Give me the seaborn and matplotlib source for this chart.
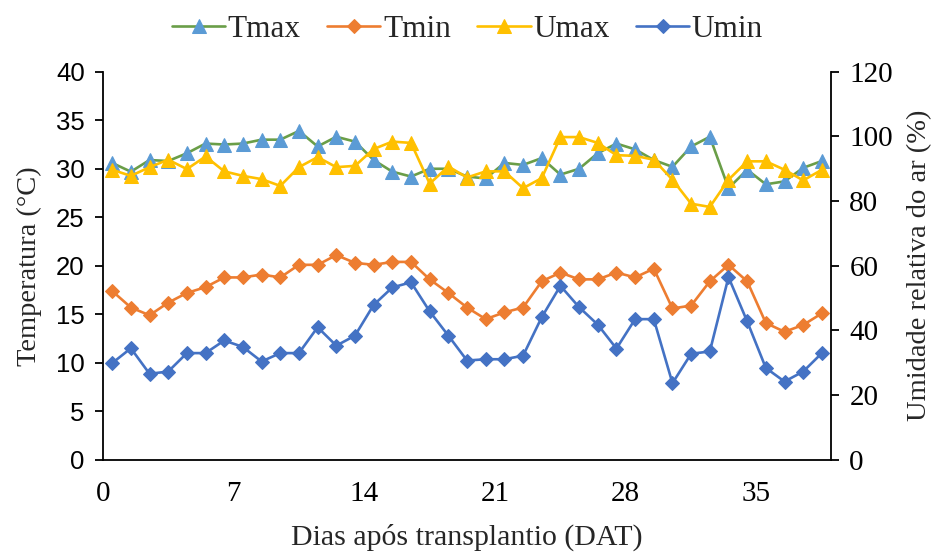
import numpy as np
import pandas as pd
import matplotlib
matplotlib.use("Agg")
import matplotlib.pyplot as plt
import seaborn as sns

# Daily air temperature (°C) and relative humidity (%) after transplanting
days = list(range(39))
tmax = [30.6, 29.7, 30.9, 30.8, 31.6, 32.6, 32.5, 32.6, 33.0, 33.0,
        33.9, 32.3, 33.3, 32.8, 30.9, 29.7, 29.2, 30.0, 30.0, 29.2,
        29.0, 30.6, 30.4, 31.1, 29.4, 30.0, 31.6, 32.6, 32.0, 30.9,
        30.2, 32.3, 33.3, 28.0, 29.9, 28.4, 28.7, 30.1, 30.8]
tmin = [17.4, 15.7, 14.9, 16.2, 17.2, 17.8, 18.8, 18.8, 19.1, 18.8,
        20.1, 20.1, 21.1, 20.3, 20.1, 20.4, 20.4, 18.6, 17.2, 15.7,
        14.5, 15.2, 15.7, 18.4, 19.3, 18.6, 18.6, 19.3, 18.8, 19.7,
        15.6, 15.9, 18.4, 20.1, 18.4, 14.1, 13.2, 13.9, 15.1]
umax = [89.7, 87.8, 90.5, 92.8, 89.9, 93.8, 89.2, 87.8, 86.8, 84.7,
        90.5, 93.6, 90.5, 90.9, 96.1, 98.4, 98.0, 85.4, 90.7, 87.3,
        89.2, 89.2, 84.0, 87.1, 99.8, 99.8, 98.0, 94.2, 94.0, 92.8,
        86.6, 79.2, 78.2, 86.6, 92.3, 92.3, 89.7, 86.4, 89.7]
umin = [29.9, 34.5, 26.6, 27.3, 33.0, 33.0, 36.9, 34.9, 30.4, 33.0,
        33.0, 41.0, 35.3, 38.4, 47.9, 53.3, 54.9, 45.9, 38.4, 30.7,
        31.1, 31.1, 32.2, 44.1, 53.8, 47.2, 41.8, 34.4, 43.5, 43.5,
        23.7, 32.8, 33.5, 56.5, 42.8, 28.4, 24.2, 27.3, 33.0]
x_ticks = [0, 7, 14, 21, 28, 35]

df = pd.DataFrame({"dia": np.array(days) + 0.5, "Tmax": tmax, "Tmin": tmin,
                   "Umax": umax, "Umin": umin})

sns.set_style("white")
serif = ["Liberation Serif", "DejaVu Serif"]
plt.rcParams["font.family"] = serif

fig = plt.figure(figsize=(9.35, 5.52), dpi=100)
ax = fig.add_axes([0.110, 0.167, 0.779, 0.703])
ax2 = ax.twinx()

c_green, c_lblue = "#6A9E48", "#5B9BD5"
c_orange, c_yellow, c_blue = "#ED7D31", "#FFC000", "#4472C4"

lw = 1.9
sns.lineplot(data=df, x="dia", y="Tmax", ax=ax, color=c_green, lw=lw,
             marker="^", markersize=10.5, markerfacecolor=c_lblue,
             markeredgecolor=c_lblue, label="Tmax", legend=False)
sns.lineplot(data=df, x="dia", y="Tmin", ax=ax, color=c_orange, lw=lw,
             marker="D", markersize=7.5, markerfacecolor=c_orange,
             markeredgecolor=c_orange, label="Tmin", legend=False)
sns.lineplot(data=df, x="dia", y="Umax", ax=ax2, color=c_yellow, lw=lw,
             marker="^", markersize=10.5, markerfacecolor=c_yellow,
             markeredgecolor=c_yellow, label="Umax", legend=False)
sns.lineplot(data=df, x="dia", y="Umin", ax=ax2, color=c_blue, lw=lw,
             marker="D", markersize=7.5, markerfacecolor=c_blue,
             markeredgecolor=c_blue, label="Umin", legend=False)

ax.set_xlim(0, 39)
ax.set_ylim(0, 40)
ax2.set_ylim(0, 120)
ax.set_xticks(x_ticks)
ax.set_yticks(np.arange(0, 41, 5))
ax2.set_yticks(np.arange(0, 121, 20))

for a in (ax, ax2):
    a.spines["top"].set_visible(False)
    for s in ("left", "right", "bottom"):
        a.spines[s].set_color("black")
        a.spines[s].set_linewidth(1.3)
    a.tick_params(direction="out", length=6, width=1.3, colors="black")
ax.spines["right"].set_visible(False)
ax2.spines["left"].set_visible(False)
ax2.spines["bottom"].set_visible(False)

ax.tick_params(axis="x", labelsize=21, pad=9)
ax.tick_params(axis="y", labelsize=18.5, pad=7, left=True)
ax2.tick_params(axis="y", labelsize=21, pad=7, right=True)
for t in ax.get_yticklabels():
    t.set_family(["Liberation Sans", "DejaVu Sans"])

ax.set_xlabel("Dias após transplantio (DAT)", fontsize=21.5, labelpad=12)
ax.set_ylabel("Temperatura (°C)", fontsize=20.5, labelpad=10)
ax2.set_ylabel("Umidade relativa do ar (%)", fontsize=20.5, labelpad=10)
ax.grid(False)
ax2.grid(False)

h1, l1 = ax.get_legend_handles_labels()
h2, l2 = ax2.get_legend_handles_labels()
fig.legend(h1 + h2, l1 + l2, loc="center", bbox_to_anchor=(0.50, 0.946),
           ncol=4, frameon=False, fontsize=22.5, handlelength=1.7,
           handletextpad=0.08, columnspacing=0.85)

fig.savefig("out.png", dpi=100)
